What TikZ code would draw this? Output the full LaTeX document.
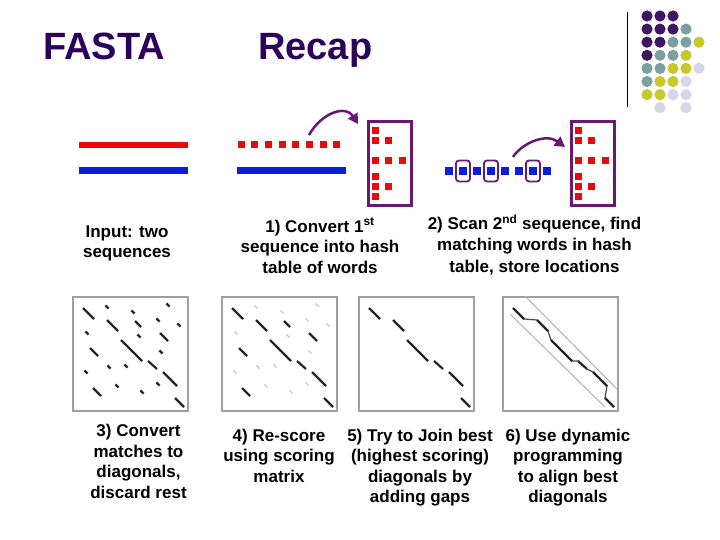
\documentclass[tikz,border=0pt]{standalone}
\usepackage{fontspec}
\setmainfont{Liberation Sans}
\usepackage{tikz}
\usetikzlibrary{arrows.meta,positioning,calc}

\definecolor{titlepurple}{RGB}{45,0,90}
\definecolor{seqred}{RGB}{235,10,10}
\definecolor{seqblue}{RGB}{10,30,220}
\definecolor{hashpurple}{RGB}{105,25,115}
\definecolor{dotP}{RGB}{62,22,100}
\definecolor{dotT}{RGB}{122,160,162}
\definecolor{dotY}{RGB}{200,200,45}
\definecolor{dotL}{RGB}{214,214,232}
\definecolor{boxgray}{RGB}{160,160,160}

\begin{document}
\begin{tikzpicture}[x=1pt,y=-1pt,
    title/.style={font=\fontsize{38}{42}\selectfont\bfseries, text=titlepurple, inner sep=0, anchor=base west},
    caption/.style={font=\fontsize{17}{20.5}\selectfont\bfseries, align=center, inner sep=0, anchor=north},
    redseq/.style={line width=6pt, seqred},
    blueseq/.style={line width=7pt, seqblue},
    hashtab/.style={draw=hashpurple, line width=3pt, minimum width=43pt, minimum height=84pt, inner sep=0},
    wordbox/.style={draw=hashpurple, fill=white, line width=1.8pt, rounded corners=3pt, minimum width=14pt, minimum height=21pt, inner sep=0},
    hasharrow/.style={hashpurple, line width=2.5pt, -{Triangle[length=10pt,width=11pt]}},
    dotmat/.style={draw=boxgray, line width=1.5pt, minimum width=115pt, minimum height=114pt, inner sep=0, anchor=north west},
    hit/.style={line width=2.2pt, black!85},
    weak/.style={line width=1.2pt, black!22},
    band/.style={line width=1pt, black!30},
  ]
  \useasboundingbox[fill=white] (0,0) rectangle (720,540);

  % heading
  \node[title] (fasta) at (43,60) {FASTA};
  \node[title] (recap) at (258,60) {Recap};

  % corner dots
  \draw[line width=1pt] (627,12) -- (627,107);
  \foreach \r/\row in {0/{0/dotP,1/dotP,2/dotP}, 1/{0/dotP,1/dotP,2/dotP,3/dotT},
      2/{0/dotP,1/dotP,2/dotT,3/dotT,4/dotY}, 3/{0/dotP,1/dotT,2/dotT,3/dotY},
      4/{0/dotT,1/dotT,2/dotY,3/dotY,4/dotL}, 5/{0/dotT,1/dotY,2/dotY,3/dotL},
      6/{0/dotY,1/dotY,2/dotL,3/dotL}, 7/{1/dotL,3/dotL}}
    \foreach \c/\col in \row
      \fill[\col] (647+13*\c,16+13.1*\r) circle[radius=5.6];

  % input sequences
  \draw[redseq] (79,145.5) -- (188,145.5);
  \draw[blueseq] (79,171) -- (188,171);

  % step 1: words of the first sequence
  \foreach \i in {0,...,7}
    \fill[seqred] (241+13.7*\i,145) +(-3.5,-3.5) rectangle +(3.5,3.5);
  \draw[blueseq] (237,170.5) -- (346,170.5);

  % hash tables
  \node[hashtab] (tabA) at (389.5,163.7) {};
  \node[hashtab] (tabB) at (592.5,163.7) {};
  \foreach \t in {tabA,tabB}
    \foreach \dx/\dy in {-14.3/-33.5, -14.3/-23, -1/-23, -14.3/-3, -1/-3, 12.8/-3,
        -14.3/12.5, -14.3/23, -1/23, -14.3/33}
      \fill[seqred] ($(\t)+(\dx,\dy)$) +(-3.5,-3.5) rectangle +(3.5,3.5);

  % step 2: scanning the second sequence
  \foreach \i/\nm in {1/wA,3/wB,6/wC}
    \node[wordbox] (\nm) at (449+14*\i,171) {};
  \foreach \i in {0,...,7}
    \fill[seqblue] (449+14*\i,171) +(-3.6,-3.6) rectangle +(3.6,3.6);

  \coordinate (srcA) at (309,135);
  \coordinate (inA) at ($(tabA.north west)+(-8.5,3.8)$);
  \draw[hasharrow] (srcA) .. controls +(13,-23) and +(-12,-19) .. (inA);
  \coordinate (srcB) at (513,157);
  \coordinate (inB) at ($(tabB.north west)+(-4.5,26.8)$);
  \draw[hasharrow] (srcB) .. controls +(9,-14) and +(-19,-14) .. (inB);

  \node[caption] (input) at (127,222.6) {\strut Input: two\\sequences};
  \node[caption] (conv1) at (320,217.6) {\strut 1) Convert 1\textsuperscript{st}\\sequence into hash\\table of words};
  \node[caption, font=\fontsize{17}{21.5}\selectfont\bfseries] (scan2) at (534.5,214.2) {\strut 2) Scan 2\textsuperscript{nd} sequence, find\\matching words in hash\\table, store locations};

  % dot matrices
  \node[dotmat] (matA) at (72,296) {};
  \node[dotmat] (matB) at (221,296) {};
  \node[dotmat] (matC) at (358,296) {};
  \node[dotmat] (matD) at (502,296) {};

  \begin{scope}[shift={(matA.north west)}]
    \foreach \xa/\ya/\xb/\yb in {11/12/22/23, 35/24/46/35, 63/25/69/31, 88/37/96/45, 49/44/70/65,
        18/52/26/60, 76/65/85/73, 91/76/105/90, 21/92/29/100, 103/102/112/111}
      \draw[hit] (\xa,\ya) -- (\xb,\yb);
    \foreach \x/\y in {35/11, 61/16, 96/9, 86/24, 107/29, 15/37, 67/40, 89/56, 37/71, 54/70,
        14/76, 45/90, 86/88, 70/96}
      \draw[hit] (\x-1.6,\y-1.6) -- (\x+1.6,\y+1.6);
  \end{scope}

  \begin{scope}[shift={(matB.north west)}]
    \foreach \xa/\ya/\xb/\yb in {11/12/22/23, 35/24/46/35, 63/25/69/31, 88/37/96/45, 49/44/70/65,
        18/52/26/60, 76/65/85/73, 91/76/105/90, 21/92/29/100, 103/102/112/111}
      \draw[hit] (\xa,\ya) -- (\xb,\yb);
    \foreach \x/\y in {35/11, 61/16, 96/9, 86/24, 107/29, 15/37, 67/40, 89/56, 37/71, 54/70,
        14/76, 45/90, 86/88, 70/96}
      \draw[weak] (\x-1.6,\y-1.6) -- (\x+1.6,\y+1.6);
  \end{scope}

  \begin{scope}[shift={(matC.north west)}]
    \foreach \xa/\ya/\xb/\yb in {11/12/22/23, 35/24/46/35, 49/44/70/65, 76/65/85/73,
        91/76/105/90, 103/102/112/111}
      \draw[hit] (\xa,\ya) -- (\xb,\yb);
  \end{scope}

  \begin{scope}[shift={(matD.north west)}]
    \draw[band] (23,0) -- (115,93);
    \draw[band] (8,18) -- (103,111);
    \draw[line width=1.2pt, black!70] (11,12) -- (22,23) -- (35,24) -- (46,35) -- (49,44) -- (70,65)
      -- (76,65) -- (85,73) -- (91,76) -- (105,90) -- (103,102) -- (112,111);
    \foreach \xa/\ya/\xb/\yb in {11/12/22/23, 35/24/46/35, 49/44/70/65, 76/65/85/73,
        91/76/105/90, 103/102/112/111}
      \draw[hit] (\xa,\ya) -- (\xb,\yb);
  \end{scope}

  \node[caption] (conv3) at (138.5,422.4) {\strut 3) Convert\\matches to\\diagonals,\\discard rest};
  \node[caption] (rescore) at (279,426.6) {\strut 4) Re-score\\using scoring\\matrix};
  \node[caption] (join) at (420,426.6) {\strut 5) Try to Join best\\(highest scoring)\\diagonals by\\adding gaps};
  \node[caption] (dynprog) at (568,426.6) {\strut 6) Use dynamic\\programming\\to align best\\diagonals};
\end{tikzpicture}
\end{document}
